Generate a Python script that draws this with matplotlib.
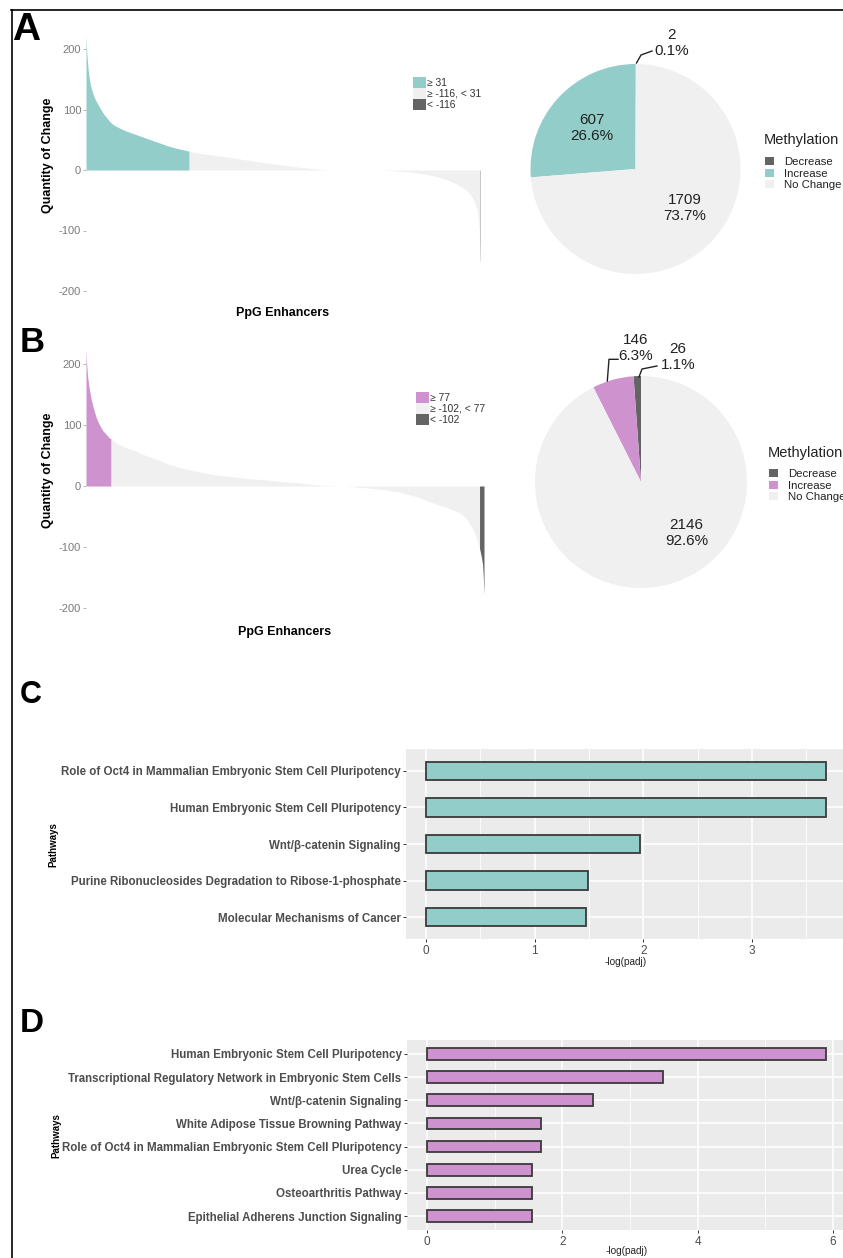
import matplotlib
matplotlib.use('Agg')
import matplotlib.pyplot as plt
from matplotlib.patches import Patch
from matplotlib.lines import Line2D
import numpy as np

plt.rcParams['font.family'] = ['Liberation Sans', 'DejaVu Sans']
plt.rcParams['axes.unicode_minus'] = False

# ---- data ----
# waterfall A: sorted change per PpG enhancer (rank of enhancer, quantity of change)
rank_a = [0, 2, 4, 6, 9, 12, 16, 20, 26, 33, 42, 52, 63, 75, 90, 105, 120, 140, 160, 180,
          200, 240, 280, 330, 380, 430, 480, 530, 580, 607, 680, 760, 840, 920, 1000, 1080,
          1160, 1240, 1320, 1380, 1417, 1748, 1800, 1850, 1900, 1950, 2000, 2050, 2100, 2150,
          2200, 2240, 2265, 2285, 2300, 2308, 2313, 2316, 2317, 2318]
change_a = [222, 210, 198, 188, 178, 168, 158, 150, 141, 133, 125, 118, 112, 106, 99, 92, 87, 80, 75, 72,
            69, 64, 60, 55, 50, 45, 40, 36, 33, 31, 27, 24, 21, 17.5, 14, 11,
            8, 5, 2.5, 1, 0, 0, -1, -2, -3, -5, -7, -10, -14, -19,
            -26, -34, -42, -52, -65, -80, -100, -116, -150, -150]
cut_a = (31, -116)

rank_b = [0, 2, 4, 7, 10, 14, 19, 25, 32, 40, 50, 60, 72, 85, 100, 120, 135, 146, 180, 220,
          276, 340, 400, 470, 560, 664, 760, 858, 950, 1052, 1150, 1246, 1320, 1382, 1450, 1518,
          1580, 1635, 1730, 1829, 1930, 2023, 2100, 2178, 2220, 2256, 2275, 2285, 2292, 2298,
          2304, 2310, 2314, 2316, 2318]
change_b = [225, 212, 200, 188, 178, 170, 160, 150, 140, 131, 121, 112, 104, 97, 90, 84, 79, 77, 70, 64,
            59, 51, 45, 37, 29, 23, 18, 15, 12, 10, 7, 5, 2.5, 1, 0.3, 0,
            -2, -3, -6, -10, -18, -28, -35, -44, -55, -72, -85, -95, -102, -110,
            -118, -130, -150, -165, -178]
cut_b = (77, -102)

meth_levels = ['Decrease', 'Increase', 'No Change']
counts_a = [2, 607, 1709]
pct_a = [0.1, 26.6, 73.7]
counts_b = [26, 146, 2146]
pct_b = [1.1, 6.3, 92.6]

path_c = ['Role of Oct4 in Mammalian Embryonic Stem Cell Pluripotency',
          'Human Embryonic Stem Cell Pluripotency',
          'Wnt/β-catenin Signaling',
          'Purine Ribonucleosides Degradation to Ribose-1-phosphate',
          'Molecular Mechanisms of Cancer']
padj_c = [3.68, 3.68, 1.97, 1.49, 1.47]

path_d = ['Human Embryonic Stem Cell Pluripotency',
          'Transcriptional Regulatory Network in Embryonic Stem Cells',
          'Wnt/β-catenin Signaling',
          'White Adipose Tissue Browning Pathway',
          'Role of Oct4 in Mammalian Embryonic Stem Cell Pluripotency',
          'Urea Cycle',
          'Osteoarthritis Pathway',
          'Epithelial Adherens Junction Signaling']
padj_d = [5.90, 3.49, 2.45, 1.69, 1.69, 1.56, 1.56, 1.56]

TEAL = '#93CDCA'
PURPLE = '#CE93CE'
DARK = '#646464'
LIGHT = '#F0F0F0'

W, H = 843, 1258
fig = plt.figure(figsize=(W / 100, H / 100), dpi=100)


def px_axes(left, top, right, bottom):
    return fig.add_axes([left / W, 1 - bottom / H, (right - left) / W, (bottom - top) / H])


def fx(x):
    return x / W


def fy(y):
    return 1 - y / H


def waterfall(ax, ranks, change, cut, hi_color):
    r = np.array(ranks, dtype=float)
    v = np.array(change, dtype=float)
    groups = [(v >= cut[0], hi_color),
              ((v <= cut[0]) & (v >= cut[1]), LIGHT),
              (v <= cut[1], DARK)]
    for mask, col in groups:
        ax.fill_between(r, 0, v, where=mask, color=col, linewidth=0)
    ax.set_xlim(0, r[-1])
    ax.set_ylim(-230, 230)
    ax.set_yticks([-200, -100, 0, 100, 200])
    ax.set_xticks([])
    for s in ax.spines.values():
        s.set_visible(False)
    ax.patch.set_alpha(0)
    ax.tick_params(axis='y', length=2.5, width=0.6, color='#AAAAAA', labelsize=8,
                   labelcolor='#7A7A7A', pad=1)


def cut_legend(anchor, cut, hi_color):
    handles = [Patch(facecolor=c, edgecolor='none') for c in (hi_color, LIGHT, DARK)]
    labels = [f'≥ {cut[0]}', f'≥ {cut[1]}, < {cut[0]}', f'< {cut[1]}']
    fig.legend(handles, labels, loc='upper left', bbox_to_anchor=(fx(anchor[0]), fy(anchor[1])),
               frameon=False, fontsize=7.4, handlelength=1.25, handleheight=1.25,
               handletextpad=0.15, labelspacing=0, borderpad=0, borderaxespad=0,
               labelcolor='#333333')


def meth_legend(title_xy, items_xy, inc_color):
    fig.text(fx(title_xy[0]), fy(title_xy[1]), 'Methylation', fontsize=10.5,
             ha='left', va='center', color='#222222')
    handles = [Patch(facecolor=c, edgecolor='none') for c in (DARK, inc_color, LIGHT)]
    fig.legend(handles, meth_levels, loc='upper left',
               bbox_to_anchor=(fx(items_xy[0]), fy(items_xy[1])), frameon=False, fontsize=8.2,
               handlelength=0.75, handleheight=0.75, labelspacing=0.12,
               handletextpad=0.9, borderpad=0, borderaxespad=0, labelcolor='#222222')


def pie(cx, cy, R, counts, pct, inc_color, label_pos, leaders):
    ax = px_axes(cx - 1.3 * R, cy - 1.3 * R, cx + 1.3 * R, cy + 1.3 * R)
    ax.pie(counts, colors=[DARK, inc_color, LIGHT], startangle=90, counterclock=True,
           wedgeprops=dict(linewidth=0))
    ax.set_xlim(-1.3, 1.3)
    ax.set_ylim(-1.3, 1.3)
    ax.set_aspect('equal')
    to = lambda x, y: ((x - cx) / R, (cy - y) / R)
    for n, p, (x, y) in zip(counts, pct, label_pos):
        tx, ty = to(x, y)
        ax.text(tx, ty, f'{n}\n{p}%', ha='center', va='center', fontsize=11,
                linespacing=1.15, color='#222222')
    for pts in leaders:
        xs, ys = zip(*[to(x, y) for x, y in pts])
        ax.plot(xs, ys, color='#222222', lw=1.0, clip_on=False)
    return ax


def pathway_bars(ax, names, vals, color, step, xlab_pad):
    n = len(names)
    y = np.arange(n, 0, -1)
    vmax = max(vals)
    ax.barh(y, vals, height=0.5, color=color, edgecolor='#3A3A3A', linewidth=1.3)
    ax.set_xlim(-0.05 * vmax, 1.05 * vmax)
    ax.set_ylim(0.4, n + 0.6)
    ax.set_yticks(y)
    ax.set_yticklabels(names)
    ax.set_xticks(np.arange(0, 1.05 * vmax, step))
    ax.set_xticks(np.arange(step / 2, 1.05 * vmax, step), minor=True)
    ax.set_facecolor('#EBEBEB')
    ax.grid(which='major', color='white', lw=1.1)
    ax.grid(which='minor', axis='x', color='white', lw=0.55)
    ax.set_axisbelow(True)
    for s in ax.spines.values():
        s.set_visible(False)
    ax.tick_params(which='major', length=2.5, width=0.7, color='#333333',
                   labelcolor='#4D4D4D', pad=1.5, labelsize=8.5)
    ax.tick_params(which='minor', length=0)
    for lbl in ax.get_yticklabels():
        lbl.set_fontweight('bold')
        lbl.set_fontsize(8.3)
    ax.set_xlabel('-log(padj)', fontsize=7.2, labelpad=xlab_pad, color='#222222')


# ---- panel A ----
axA = px_axes(86, 30.85, 480, 309.15)
waterfall(axA, rank_a, change_a, cut_a, TEAL)
cut_legend((413, 77), cut_a, TEAL)
fig.text(fx(48), fy(155), 'Quantity of Change', rotation=90, fontsize=9, fontweight='bold',
         ha='center', va='center')
fig.text(fx(283), fy(313), 'PpG Enhancers', fontsize=9, fontweight='bold', ha='center', va='center')

pie(635.5, 169, 105, counts_a, pct_a, TEAL,
    [(672, 43), (591.7, 128), (685, 208)],
    [[(636.5, 63), (641, 55), (652, 51)]])
meth_legend((764, 140), (765, 157), TEAL)

# ---- panel B ----
axB = px_axes(86, 345.7, 484, 626.3)
waterfall(axB, rank_b, change_b, cut_b, PURPLE)
cut_legend((416, 392), cut_b, PURPLE)
fig.text(fx(48), fy(470), 'Quantity of Change', rotation=90, fontsize=9, fontweight='bold',
         ha='center', va='center')
fig.text(fx(285), fy(632), 'PpG Enhancers', fontsize=9, fontweight='bold', ha='center', va='center')

pie(641, 482, 106, counts_b, pct_b, PURPLE,
    [(678, 357), (636, 348), (686.7, 533)],
    [[(607.3, 381), (609, 359.3), (618, 359.3)],
     [(639, 377), (642, 369), (657, 366)]])
meth_legend((768, 453), (769, 469), PURPLE)

# ---- panel C ----
axC = px_axes(406, 749, 846, 939)
pathway_bars(axC, path_c, padj_c, TEAL, 1, 0.5)
fig.text(fx(53), fy(845), 'Pathways', rotation=90, fontsize=7, fontweight='bold',
         ha='center', va='center')

# ---- panel D ----
axD = px_axes(407, 1040, 846, 1230)
pathway_bars(axD, path_d, padj_d, PURPLE, 2, -1)
fig.text(fx(56), fy(1136), 'Pathways', rotation=90, fontsize=7, fontweight='bold',
         ha='center', va='center')

# panel letters and frame
for letter, x, y, size in [('A', 12, 40, 28), ('B', 20, 352, 25), ('C', 20, 703, 22), ('D', 20, 1032, 24)]:
    fig.text(fx(x), fy(y), letter, fontsize=size, fontweight='bold', va='baseline', ha='left')

fig.add_artist(Line2D([fx(11), 1], [fy(10), fy(10)], color='black', lw=1.2))
fig.add_artist(Line2D([fx(12), fx(12)], [0, fy(10)], color='black', lw=1.2))

fig.savefig('out.png', dpi=100)
